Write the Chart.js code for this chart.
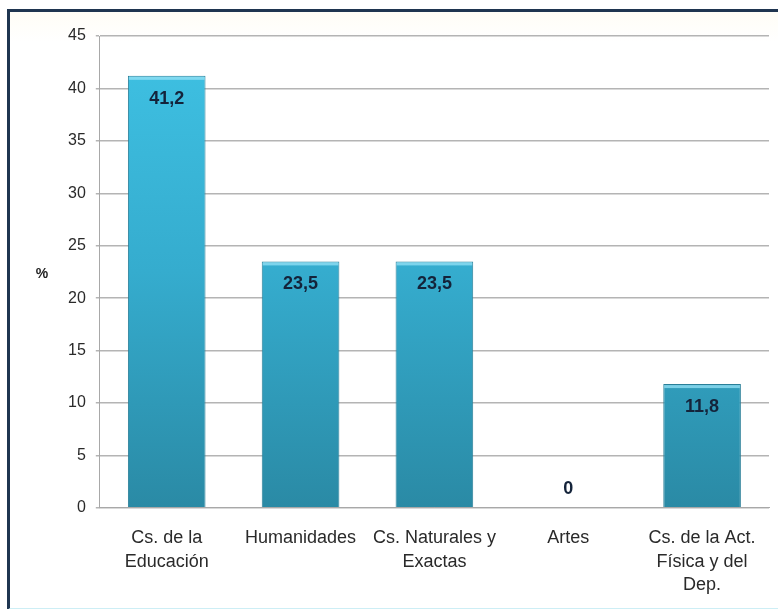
<!DOCTYPE html>
<html lang="es">
<head>
  <meta charset="UTF-8">
  <title>Distribución por área</title>
  <script src="https://cdn.jsdelivr.net/npm/chart.js"></script>
  <style>
    html, body {
      margin: 0;
      padding: 0;
      background: #ffffff;
      font-family: "Liberation Sans", Arial, sans-serif;
    }
    #frame {
      position: absolute;
      left: 7px;
      top: 9px;
      width: 771px;
      height: 596px;
      border-top: 3px solid #1f3550;
      border-left: 3px solid #1f3550;
      border-bottom: 2px solid #cdeef5;
      background: linear-gradient(#fffdf6 0px, #ffffff 30px);
    }
    #wrap {
      position: absolute;
      left: 0;
      top: 0;
      width: 778px;
      height: 609px;
    }
  </style>
</head>
<body>
  <div id="frame"></div>
  <div id="wrap"><canvas id="chart"></canvas></div>

<script>
// categorias y porcentajes
const areas = [
  ['Cs. de la', 'Educación'],
  'Humanidades',
  ['Cs. Naturales y', 'Exactas'],
  'Artes',
  ['Cs. de la Act.', 'Física y del', 'Dep.']
];
const porcentajes = [41.2, 23.5, 23.5, 0, 11.8];
const etiquetas = ['41,2', '23,5', '23,5', '0', '11,8'];

// degradado vertical de las barras
function barGradient(ctx) {
  const chart = ctx.chart;
  const area = chart.chartArea;
  if (!area) return '#35aecf';
  const g = chart.ctx.createLinearGradient(0, area.top, 0, area.bottom);
  g.addColorStop(0, '#3fc2e4');
  g.addColorStop(0.5, '#35acce');
  g.addColorStop(1, '#2a8aa5');
  return g;
}

// valores dentro de la barra + simbolo % del eje
const valueLabels = {
  id: 'valueLabels',
  afterDatasetsDraw(chart) {
    const ctx = chart.ctx;
    const meta = chart.getDatasetMeta(0);
    ctx.save();
    // brillo en el borde superior de cada barra
    meta.data.forEach((bar, i) => {
      if (porcentajes[i] <= 0) return;
      const half = bar.width / 2;
      ctx.fillStyle = 'rgba(150, 225, 245, 0.75)';
      ctx.fillRect(bar.x - half + 1, bar.y + 1, bar.width - 2, 3);
    });
    ctx.font = 'bold 18px "Liberation Sans", Arial, sans-serif';
    ctx.fillStyle = '#14233a';
    ctx.textAlign = 'center';
    ctx.textBaseline = 'middle';
    meta.data.forEach((bar, i) => {
      const v = porcentajes[i];
      const y = v > 0 ? bar.y + 23 : bar.y - 19;
      ctx.fillText(etiquetas[i], bar.x, y);
    });
    const yScale = chart.scales.y;
    ctx.font = 'bold 14px "Liberation Sans", Arial, sans-serif';
    ctx.fillStyle = '#222';
    ctx.fillText('%', 42, (yScale.top + yScale.bottom) / 2 + 2);
    ctx.restore();
  }
};

new Chart(document.getElementById('chart'), {
  type: 'bar',
  data: {
    labels: areas,
    datasets: [{
      data: porcentajes,
      backgroundColor: barGradient,
      borderColor: '#2a7f98',
      borderWidth: { top: 1, left: 1, right: 1, bottom: 0 },
      categoryPercentage: 0.58,
      barPercentage: 1
    }]
  },
  options: {
    responsive: true,
    maintainAspectRatio: false,
    animation: false,
    layout: { padding: { top: 36, right: 9, bottom: -7, left: 58 } },
    plugins: {
      legend: { display: false },
      tooltip: { enabled: false }
    },
    scales: {
      x: {
        grid: { display: false, drawTicks: false },
        border: { color: '#a8a8a8', width: 1 },
        ticks: {
          color: '#2a2a2a',
          font: { size: 18, lineHeight: 1.3, family: '"Liberation Sans", Arial, sans-serif' },
          padding: 19,
          maxRotation: 0,
          autoSkip: false
        }
      },
      y: {
        min: 0,
        max: 45,
        ticks: {
          stepSize: 5,
          color: '#2a2a2a',
          font: { size: 16, family: '"Liberation Sans", Arial, sans-serif' },
          padding: 10
        },
        grid: { color: '#b4b4b4', lineWidth: 1.5, tickLength: 4 },
        border: { color: '#a8a8a8', width: 1 }
      }
    }
  },
  plugins: [valueLabels]
});
</script>
</body>
</html>
